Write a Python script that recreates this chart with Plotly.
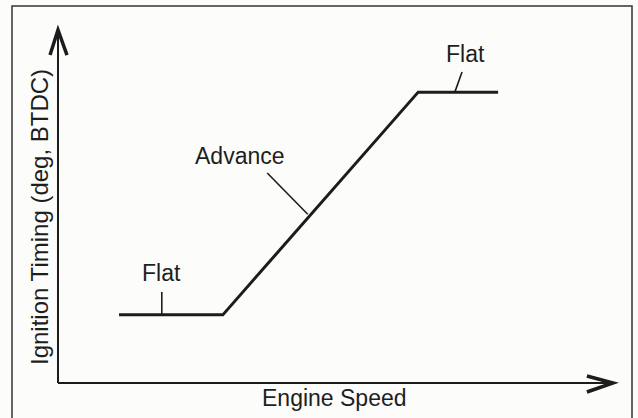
import plotly.graph_objects as go

# Data (arbitrary units: engine speed 0-100, timing 0-100)
engine_speed = [11.0, 29.7, 64.9, 79.3]
ignition_timing = [19.3, 19.3, 82.4, 82.4]

# Callout labels: text, text position, leader line (from, to)
labels = ["Flat", "Advance", "Flat"]
label_x = [18.6, 32.8, 73.5]
label_y = [31.2, 64.3, 93.2]
leader_x0 = [18.7, 37.7, 72.8]
leader_y0 = [25.8, 59.5, 88.1]
leader_x1 = [18.7, 45.0, 71.5]
leader_y1 = [19.3, 47.8, 82.4]

x_title = "Engine Speed"
y_title = "Ignition Timing (deg, BTDC)"

INK = "#1c1c1c"
TEXT = "#1e1e1e"
FONT = "Liberation Sans, Arial, Helvetica, sans-serif"

fig = go.Figure()
fig.add_trace(go.Scatter(x=engine_speed, y=ignition_timing, mode="lines",
                         line=dict(color=INK, width=3), hoverinfo="skip",
                         showlegend=False))

for i in range(len(labels)):
    fig.add_trace(go.Scatter(x=[leader_x0[i], leader_x1[i]],
                             y=[leader_y0[i], leader_y1[i]], mode="lines",
                             line=dict(color=INK, width=1.6), hoverinfo="skip",
                             showlegend=False))
    fig.add_annotation(x=label_x[i], y=label_y[i], text=labels[i],
                       showarrow=False, xref="x", yref="y",
                       xanchor="center", yanchor="middle",
                       font=dict(family=FONT, size=23, color=TEXT))

# Axes with open arrowheads
axis_style = dict(color=INK, width=2)
fig.add_shape(type="line", xref="paper", yref="paper", x0=0, y0=0, x1=1, y1=0, line=axis_style)
fig.add_shape(type="line", xref="paper", yref="paper", x0=0, y0=0, x1=0, y1=1, line=axis_style)
# x arrowhead
fig.add_shape(type="path", xref="paper", yref="paper",
              path="M 0.953,0.0198 L 1,0 L 0.953,-0.0255",
              line=dict(color=INK, width=3.5))
# y arrowhead
fig.add_shape(type="path", xref="paper", yref="paper",
              path="M -0.0144,0.929 L 0,1 L 0.0162,0.929",
              line=dict(color=INK, width=3.5))

# Border frame (bottom edge runs off the page, as in the scan)
fig.add_shape(type="rect", xref="paper", yref="paper",
              x0=(12 - 58) / 555, x1=(632 - 58) / 555,
              y0=(383 - 425) / 353, y1=(383 - 6) / 353,
              line=dict(color="#333", width=1.5))

fig.add_annotation(xref="paper", yref="paper", x=(334 - 58) / 555, y=(383 - 398) / 353,
                   text=x_title, showarrow=False,
                   xanchor="center", yanchor="middle",
                   font=dict(family=FONT, size=23, color=TEXT))
fig.add_annotation(xref="paper", yref="paper", x=(39 - 58) / 555, y=(383 - 217) / 353,
                   text=y_title, showarrow=False, textangle=-90,
                   xanchor="center", yanchor="middle",
                   font=dict(family=FONT, size=24, color=TEXT))

fig.update_xaxes(range=[0, 100], visible=False)
fig.update_yaxes(range=[0, 100], visible=False)
fig.update_layout(width=638, height=418,
                  margin=dict(l=58, r=25, t=30, b=35, autoexpand=False),
                  paper_bgcolor="#fcfcfa", plot_bgcolor="rgba(0,0,0,0)",
                  showlegend=False, hovermode=False)

fig.write_html("out.html", config={"displayModeBar": False},
               post_script="document.body.style.margin='0';document.body.style.padding='0';")
